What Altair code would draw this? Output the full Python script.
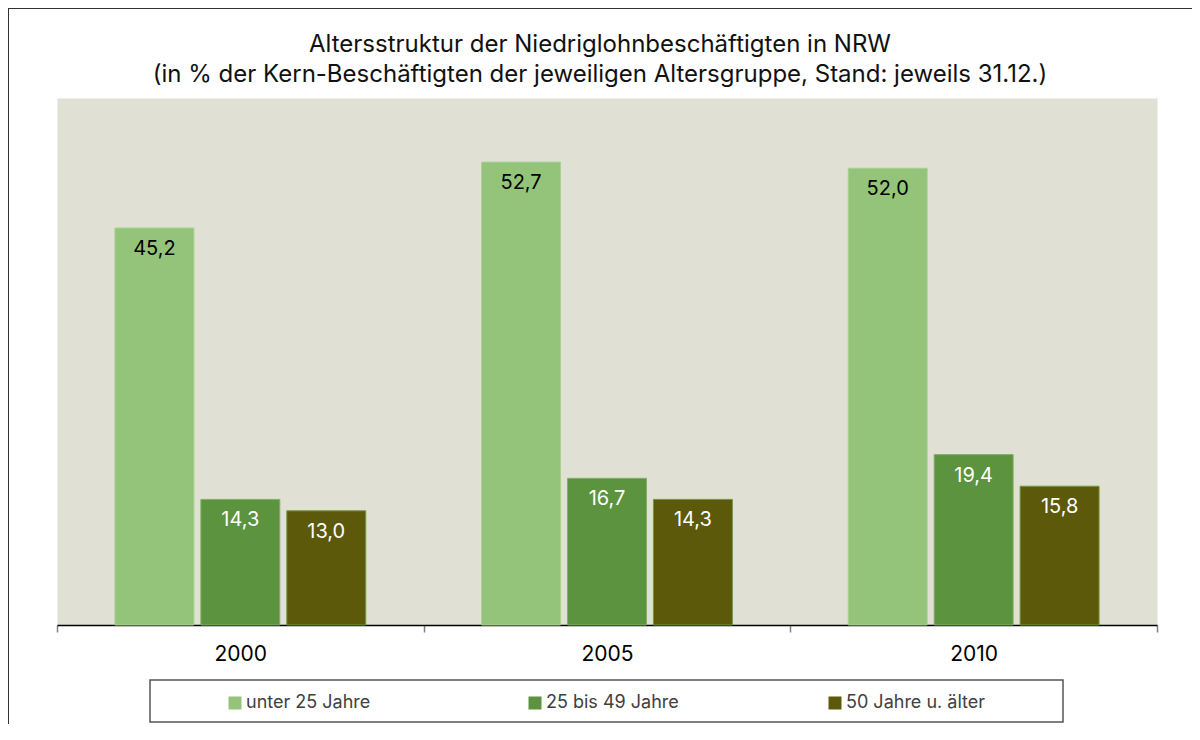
import altair as alt
import pandas as pd

years = ["2000", "2005", "2010"]
groups = ["unter 25 Jahre", "25 bis 49 Jahre", "50 Jahre u. älter"]
under25 = [45.2, 52.7, 52.0]
age25_49 = [14.3, 16.7, 19.4]
age50plus = [13.0, 14.3, 15.8]

title_line1 = "Altersstruktur der Niedriglohnbeschäftigten in NRW"
title_line2 = "(in % der Kern-Beschäftigten der jeweiligen Altersgruppe, Stand: jeweils 31.12.)"

fill_colors = ["#93C47A", "#5C933E", "#5C5A0A"]
stroke_colors = ["#A9D190", "#80B062", "#6E9A3A"]
label_colors = ["#000000", "#FFFFFF", "#FFFFFF"]
FONT = "Inter"

rows = []
for g, vals in zip(groups, [under25, age25_49, age50plus]):
    for yr, v in zip(years, vals):
        rows.append({"Jahr": yr, "Gruppe": g, "Wert": v,
                     "Label": f"{v:.1f}".replace(".", ",")})
df = pd.DataFrame(rows)

x_enc = alt.X("Jahr:N", sort=years,
              scale=alt.Scale(paddingInner=0, paddingOuter=0),
              axis=alt.Axis(title=None, labelAngle=0, tickBand="extent",
                            tickSize=7, tickColor="#808080", tickWidth=1.5,
                            domainColor="#000000", domainWidth=1.5,
                            labelFontSize=21, labelPadding=11,
                            labelColor="#000000", labelFont=FONT))
y_enc = alt.Y("Wert:Q", scale=alt.Scale(domain=[0, 60], nice=False), axis=None)
xo_enc = alt.XOffset("Gruppe:N", sort=groups,
                     scale=alt.Scale(domain=groups, paddingInner=0.0814, paddingOuter=0.674))

base = alt.Chart(df)
bars = base.mark_bar(strokeWidth=1).encode(
    x=x_enc, y=y_enc, xOffset=xo_enc,
    color=alt.Color("Gruppe:N", sort=groups,
                    scale=alt.Scale(domain=groups, range=fill_colors),
                    legend=alt.Legend(title=None, orient="none", legendX=169, legendY=596,
                                      direction="horizontal", columns=3, gridAlign="all",
                                      columnPadding=140, symbolType="square",
                                      symbolSize=169, symbolStrokeWidth=0,
                                      labelFontSize=18, labelOffset=2,
                                      labelColor="#404040", labelFont=FONT)),
    stroke=alt.Stroke("Gruppe:N", scale=alt.Scale(domain=groups, range=stroke_colors),
                      legend=None),
)
texts = base.mark_text(dy=21, baseline="middle", fontSize=20, font=FONT).encode(
    x=x_enc, y=y_enc, xOffset=xo_enc, text="Label:N",
    color=alt.Color("Gruppe:N", scale=alt.Scale(domain=groups, range=label_colors),
                    legend=None),
)

one = pd.DataFrame({"k": [0]})
frame = alt.Chart(one).mark_rect(fillOpacity=0, stroke="#333333", strokeWidth=2).encode(
    x=alt.value(-49), x2=alt.value(1400), y=alt.value(-90), y2=alt.value(900))
legend_box = alt.Chart(one).mark_rect(fillOpacity=0, stroke="#555555", strokeWidth=1.5).encode(
    x=alt.value(93), x2=alt.value(1006), y=alt.value(582), y2=alt.value(624))
title1 = alt.Chart(one).mark_text(text=title_line1, fontSize=24, font=FONT, color="#111111",
                                  align="center", baseline="middle").encode(
    x=alt.value(543), y=alt.value(-53))
title2 = alt.Chart(one).mark_text(text=title_line2, fontSize=24, font=FONT, color="#111111",
                                  align="center", baseline="middle").encode(
    x=alt.value(543), y=alt.value(-23))

chart = alt.layer(frame, legend_box, title1, title2, bars, texts).resolve_scale(
    color="independent"
).properties(
    width=1100, height=527,
    background="#FFFFFF",
    autosize=alt.AutoSizeParams(type="none"),
    padding={"left": 49, "top": 90, "right": 35, "bottom": 99},
).configure_view(fill="#E0E0D4", stroke="transparent")

chart.save("out.html", embed_options={"renderer": "svg", "actions": False})
